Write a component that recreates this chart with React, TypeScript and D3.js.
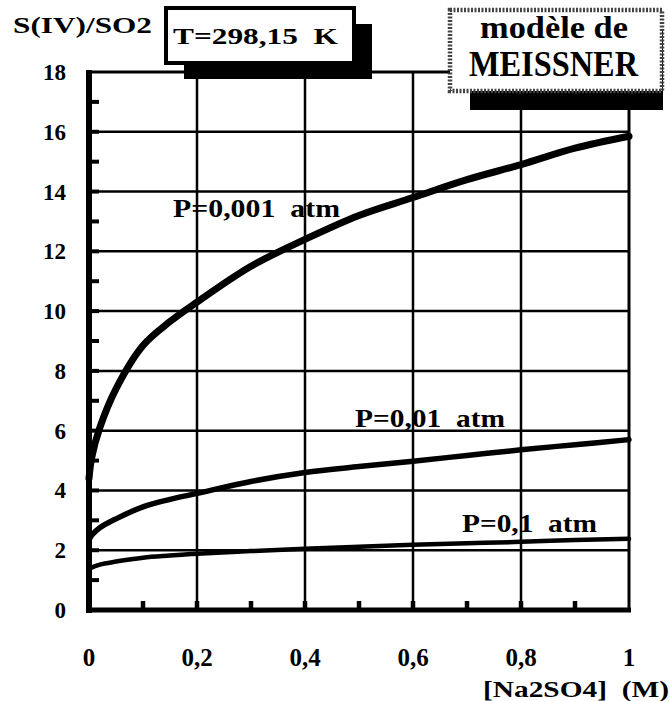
import React, { useEffect, useRef } from "react";
import * as d3 from "d3";

// concentration of Na2SO4 (M), shared by the three curves
const concentrations = [0, 0.005, 0.02, 0.05, 0.1, 0.15, 0.2, 0.3, 0.4, 0.5, 0.6, 0.7, 0.8, 0.9, 1.0];
const ratioP0001 = [4.4, 5.1, 6.1, 7.4, 8.85, 9.65, 10.3, 11.5, 12.4, 13.2, 13.8, 14.4, 14.9, 15.45, 15.85];
const ratioP001 = [2.35, 2.5, 2.75, 3.05, 3.45, 3.7, 3.9, 4.3, 4.6, 4.8, 4.98, 5.17, 5.36, 5.53, 5.7];
const ratioP01 = [1.35, 1.42, 1.52, 1.62, 1.75, 1.82, 1.88, 1.97, 2.05, 2.12, 2.18, 2.23, 2.28, 2.34, 2.38];

const seriesLabels = ["P=0,001  atm", "P=0,01  atm", "P=0,1  atm"];

const xTicks = [0, 0.2, 0.4, 0.6, 0.8, 1];
const xTickLabels = ["0", "0,2", "0,4", "0,6", "0,8", "1"];
const xMinorTicks = [0.1, 0.2, 0.3, 0.4, 0.5, 0.6, 0.7, 0.8, 0.9];
const yTicks = [0, 2, 4, 6, 8, 10, 12, 14, 16, 18];
const yMinorTicks = [1, 2, 3, 4, 5, 6, 7, 8, 9, 10, 11, 12, 13, 14, 15, 16, 17];

const SERIF = '"Liberation Serif", "Times New Roman", "DejaVu Serif", serif';

const App = () => {
  const svgRef = useRef<SVGSVGElement>(null);

  useEffect(() => {
    const width = 670;
    const height = 701;
    const svg = d3.select(svgRef.current).attr("width", width).attr("height", height);
    svg.selectAll("*").remove();

    const x = d3.scaleLinear().domain([0, 1]).range([89, 629]);
    const y = d3.scaleLinear().domain([0, 18]).range([610, 72]);

    const addText = (t: string, px: number, py: number, size: number, len?: number, anchor = "start") => {
      const el = svg
        .append("text")
        .attr("x", px)
        .attr("y", py)
        .attr("text-anchor", anchor)
        .style("font-family", SERIF)
        .style("font-size", size + "px")
        .style("font-weight", "bold")
        .style("white-space", "pre")
        .attr("fill", "#000")
        .text(t);
      if (len) el.attr("textLength", len).attr("lengthAdjust", "spacingAndGlyphs");
      return el;
    };

    // grid
    svg
      .selectAll(".hgrid")
      .data(yTicks.filter((t) => t > 0 && t < 18))
      .join("line")
      .attr("x1", x(0))
      .attr("x2", x(1))
      .attr("y1", (d) => y(d))
      .attr("y2", (d) => y(d))
      .attr("stroke", "#000")
      .attr("stroke-width", 2.5);

    svg
      .selectAll(".vgrid")
      .data(xTicks.filter((t) => t > 0 && t < 1))
      .join("line")
      .attr("x1", (d) => x(d))
      .attr("x2", (d) => x(d))
      .attr("y1", y(18))
      .attr("y2", y(0))
      .attr("stroke", "#000")
      .attr("stroke-width", 2.5);

    // frame: top line runs to the MEISSNER box, right border
    svg
      .append("line")
      .attr("x1", x(0))
      .attr("x2", 452)
      .attr("y1", y(18))
      .attr("y2", y(18))
      .attr("stroke", "#000")
      .attr("stroke-width", 3);
    svg
      .append("line")
      .attr("x1", x(1))
      .attr("x2", x(1))
      .attr("y1", y(18))
      .attr("y2", y(0))
      .attr("stroke", "#000")
      .attr("stroke-width", 3);

    // axes (thick)
    svg
      .append("line")
      .attr("x1", x(0))
      .attr("x2", x(0))
      .attr("y1", y(18) - 2)
      .attr("y2", y(0) + 3)
      .attr("stroke", "#000")
      .attr("stroke-width", 6);
    svg
      .append("line")
      .attr("x1", x(0) - 3)
      .attr("x2", x(1) + 2)
      .attr("y1", y(0))
      .attr("y2", y(0))
      .attr("stroke", "#000")
      .attr("stroke-width", 5);

    // minor ticks
    svg
      .selectAll(".ytick")
      .data(yMinorTicks)
      .join("line")
      .attr("x1", x(0))
      .attr("x2", x(0) + 10)
      .attr("y1", (d) => y(d))
      .attr("y2", (d) => y(d))
      .attr("stroke", "#000")
      .attr("stroke-width", 4);
    svg
      .selectAll(".xtick")
      .data(xMinorTicks)
      .join("line")
      .attr("x1", (d) => x(d))
      .attr("x2", (d) => x(d))
      .attr("y1", y(0))
      .attr("y2", y(0) - 9)
      .attr("stroke", "#000")
      .attr("stroke-width", 4.5);

    // curves
    const line = d3
      .line<number>()
      .x((_, i) => x(concentrations[i]))
      .y((d) => y(d))
      .curve(d3.curveCatmullRom.alpha(0.5));

    [
      { values: ratioP0001, w: 7 },
      { values: ratioP001, w: 5.5 },
      { values: ratioP01, w: 4.5 },
    ].forEach(({ values, w }) => {
      svg
        .append("path")
        .datum(values)
        .attr("d", line)
        .attr("fill", "none")
        .attr("stroke", "#000")
        .attr("stroke-width", w)
        .attr("stroke-linecap", "round");
    });

    // curve labels
    const labelPos = [
      { x: 173, y: 217, len: 167 },
      { x: 355, y: 427, len: 150 },
      { x: 462, y: 532, len: 135 },
    ];
    seriesLabels.forEach((t, i) => addText(t, labelPos[i].x, labelPos[i].y, 25, labelPos[i].len));

    // tick labels
    yTicks.forEach((d) => addText(String(d), 66, y(d) + 8, 23, undefined, "end"));
    xTicks.forEach((d, i) => addText(xTickLabels[i], x(d), 666, 25, undefined, "middle"));

    addText("[Na2SO4]  (M)", 483, 697, 23, 186);
    addText("S(IV)/SO2", 13, 33, 24, 139);

    // temperature box with shadow
    svg.append("rect").attr("x", 184).attr("y", 24).attr("width", 188).attr("height", 55).attr("fill", "#000");
    svg
      .append("rect")
      .attr("x", 166)
      .attr("y", 8)
      .attr("width", 188)
      .attr("height", 55)
      .attr("fill", "#fff")
      .attr("stroke", "#000")
      .attr("stroke-width", 4);
    addText("T=298,15  K", 173, 44, 24, 165);

    // model box with shadow and hatched border
    svg.append("rect").attr("x", 470).attr("y", 30).attr("width", 193).attr("height", 80).attr("fill", "#000");
    svg
      .append("rect")
      .attr("x", 450)
      .attr("y", 10)
      .attr("width", 212)
      .attr("height", 81)
      .attr("fill", "#fff")
      .attr("stroke", "#444")
      .attr("stroke-width", 4.5)
      .attr("stroke-dasharray", "2 1.5");
    addText("modèle de", 480, 38, 32, 148);
    addText("MEISSNER", 469, 76, 35, 169);
  }, []);

  return <svg ref={svgRef} style={{ position: "absolute", left: 0, top: 0, background: "#fff" }}></svg>;
};

export default App;
